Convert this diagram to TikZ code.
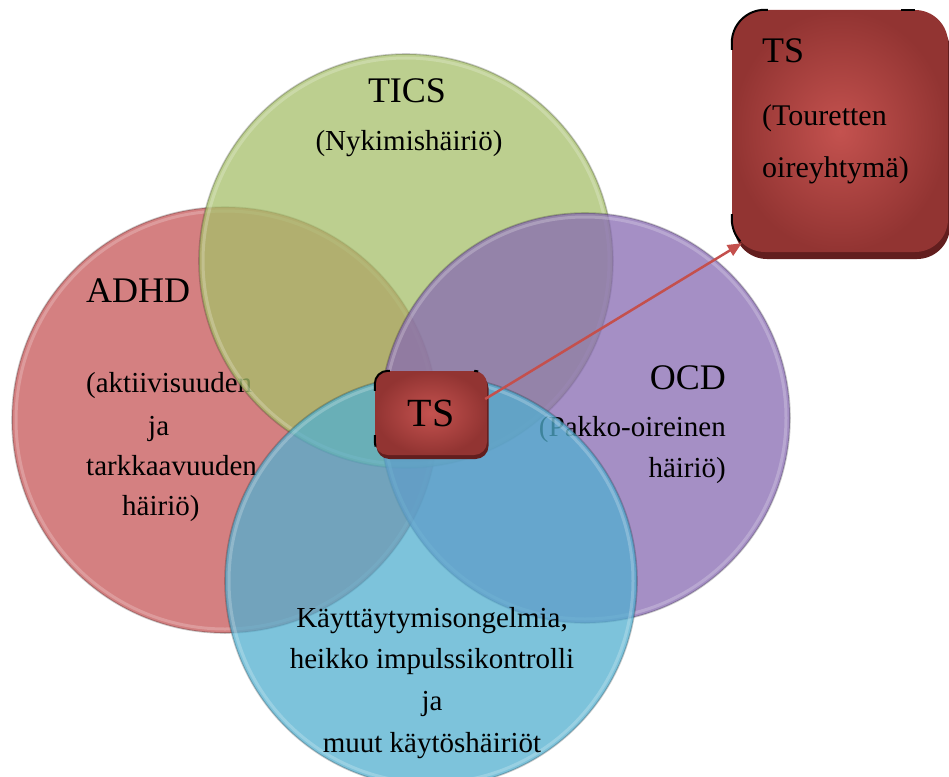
\documentclass[tikz,border=0pt]{standalone}
\usepackage{fontspec}
\setmainfont{Liberation Serif}
\usetikzlibrary{arrows.meta,calc,shadows}
\definecolor{cred}{RGB}{198,86,88}
\definecolor{cgreen}{RGB}{166,192,106}
\definecolor{cpurple}{RGB}{135,106,178}
\definecolor{cblue}{RGB}{82,175,208}
\definecolor{boxin}{RGB}{196,82,79}
\definecolor{boxout}{RGB}{146,52,50}
\definecolor{boxshadow}{RGB}{98,30,30}
\definecolor{arrowred}{RGB}{196,80,77}
\begin{document}
\begin{tikzpicture}[x=1pt,y=-1pt,
  venn/.style={circle, inner sep=0pt, minimum size=#1, fill opacity=0.75,
    draw=black, draw opacity=0.2, line width=1.6pt},
  rimlight/.style={draw=white, draw opacity=0.22, line width=3pt},
  tsbox/.style={rectangle, inner sep=0pt, shading=radial, inner color=boxin, outer color=boxout},
  cornermark/.style={draw=black, line width=2pt},
  title/.style={inner sep=0pt, font=\fontsize{36}{40}\selectfont},
  body/.style={inner sep=0pt, font=\fontsize{29}{34}\selectfont},
  boxbody/.style={inner sep=0pt, font=\fontsize{30}{34}\selectfont},
]
\useasboundingbox (0,0) rectangle (949,776);
\fill[white] (0,0) rectangle (949,776);

% ADHD
\node[venn=426pt, fill=cred] (adhd) at (225,420) {};
\draw[rimlight] (adhd.center) circle[radius=209pt];
\node[title, anchor=base west] (adhdt) at (86,302) {ADHD};
\node[body, anchor=base west] (adhd1) at (86,392) {(aktiivisuuden};
\node[body, anchor=base west] (adhd2) at (148,435) {ja};
\node[body, anchor=base west] (adhd3) at (86,475) {tarkkaavuuden};
\node[body, anchor=base west] (adhd4) at (122,515) {häiriö)};

% TICS
\node[venn=414pt, fill=cgreen] (tics) at (406,261) {};
\draw[rimlight] (tics.center) circle[radius=203pt];
\node[title, anchor=base] (ticst) at (407,102) {TICS};
\node[body, anchor=base] (tics1) at (409,150) {(Nykimishäiriö)};

% OCD
\node[venn=410pt, fill=cpurple] (ocd) at (585,418) {};
\draw[rimlight] (ocd.center) circle[radius=201pt];
\node[title, anchor=base east] (ocdt) at (726,389) {OCD};
\node[body, anchor=base east] (ocd1) at (726,436) {(Pakko-oireinen};
\node[body, anchor=base east] (ocd2) at (726,477) {häiriö)};

% behaviour
\node[venn=412pt, fill=cblue] (beh) at (431,581) {};
\draw[rimlight] (beh.center) circle[radius=202pt];
\node[body, anchor=base] (beh1) at (432,627) {Käyttäytymisongelmia,};
\node[body, anchor=base] (beh2) at (432,668) {heikko impulssikontrolli};
\node[body, anchor=base] (beh3) at (432,710) {ja};
\node[body, anchor=base] (beh4) at (432,752) {muut käytöshäiriöt};

% TS boxes
\node[tsbox, rounded corners=13pt, minimum width=112pt, minimum height=84pt,
  drop shadow={shadow xshift=1.5pt, shadow yshift=-4pt, fill=boxshadow, opacity=1},
  font=\fontsize{40}{44}\selectfont] (ts) at (431,413) {TS};
\draw[cornermark] ([yshift=-20pt]ts.north west) -- ([yshift=-13pt]ts.north west)
  arc[start angle=180, end angle=90, radius=13pt] -- ++(2pt,0);
\draw[cornermark] ([xshift=-13pt]ts.north east) arc[start angle=90, end angle=72, radius=13pt];
\draw[cornermark] ([yshift=20pt]ts.south west) -- ([yshift=13pt]ts.south west)
  arc[start angle=180, end angle=200, radius=13pt];

\node[tsbox, rounded corners=33pt, minimum width=216pt, minimum height=242pt,
  drop shadow={shadow xshift=2pt, shadow yshift=-7pt, fill=boxshadow, opacity=1}] (tsbig) at (840,131) {};
\draw[cornermark] ([yshift=-40pt]tsbig.north west) -- ([yshift=-33pt]tsbig.north west)
  arc[start angle=180, end angle=90, radius=33pt] -- ++(3pt,0);
\draw[cornermark] ([xshift=-33pt]tsbig.north east) -- ++(-14pt,0);
\draw[cornermark] ([yshift=38pt]tsbig.south west) -- ([yshift=33pt]tsbig.south west)
  arc[start angle=180, end angle=222, radius=33pt];
\node[title, anchor=base west] (tsbigt) at (762,63) {TS};
\node[boxbody, anchor=base west] (tsbig1) at (762,125) {(Touretten};
\node[boxbody, anchor=base west] (tsbig2) at (762,177) {oireyhtymä)};

% arrow
\draw[arrowred, line width=2.5pt, -{Triangle[length=14pt,width=12pt]}]
  ($(ts.east)+(-2pt,14pt)$) -- ($(tsbig.south west)+(10pt,9pt)$);
\end{tikzpicture}
\end{document}
